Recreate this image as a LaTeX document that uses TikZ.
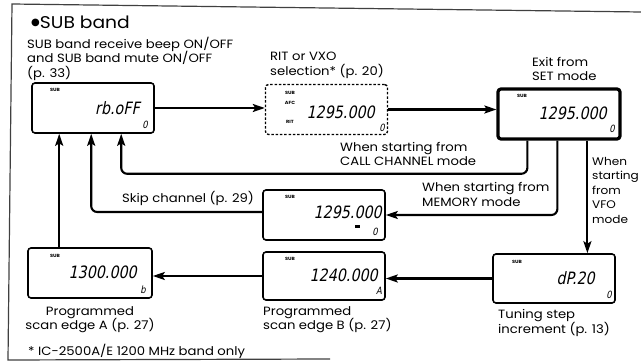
\documentclass[tikz,border=0pt]{standalone}
\usepackage{fontspec}
\setmainfont{Poppins}[FakeStretch=1.1]
\newfontfamily\lcd{DejaVu Sans}[FakeSlant=0.2,FakeStretch=0.84]
\newfontfamily\sym{DejaVu Sans}
\usetikzlibrary{arrows.meta,calc}
\begin{document}
\begin{tikzpicture}[x=1pt,y=-1pt,
  lbl/.style={font=\fontsize{12}{14.5}\selectfont,align=left,inner sep=0pt},
  lcdbox/.style={draw,line width=1.6pt,rounded corners=3pt,minimum width=122pt,minimum height=50pt,inner sep=0pt},
  tinylab/.style={font=\fontsize{4.5}{5}\selectfont\bfseries,inner sep=0pt},
  bigdig/.style={font=\lcd\fontsize{17}{17}\selectfont,inner sep=0pt,anchor=east},
  smalldig/.style={font=\lcd\fontsize{10}{10}\selectfont,inner sep=0pt},
  conn/.style={line width=2.1pt,rounded corners=6pt},
  arr/.style={conn,-{Stealth[length=12pt,width=8pt,inset=2.5pt]}}]
\useasboundingbox (0,0) rectangle (641,363);
% frame
\draw[line width=1.2pt,black!75] (641,12) -- (12,4) -- (8,360) -- (330,359);

% title
\node[anchor=west,inner sep=0pt,font=\fontsize{17}{17}\selectfont] (title) at (31,22) {\raisebox{2.5pt}{\sym\fontsize{10}{10}\selectfont ●}SUB band};
\node[lbl,anchor=north west] (t1) at (27,37) {SUB band receive beep ON/OFF\\and SUB band mute ON/OFF\\(p. 33)};

% boxes
\node[lcdbox] (b1) at (93,108) {};
\node[lcdbox,dash pattern=on 2.5pt off 1.8pt,line width=1.4pt] (b2) at (326.5,109.5) {};
\node[lcdbox,line width=3.2pt] (b3) at (559,114) {};
\node[lcdbox] (b4) at (324,215) {};
\node[lcdbox,minimum height=48pt] (b5) at (324,276) {};
\node[lcdbox,minimum width=124pt] (b6) at (90,273) {};
\node[lcdbox,minimum height=49pt] (b7) at (554,278.5) {};

% box contents
\node[tinylab] (s1) at (55,90) {SUB};
\node[bigdig] (d1) at (140,108) {rb.oFF};
\node[smalldig] (z1) at (145,125) {0};

\node[tinylab] (s2) at (290,93) {SUB};
\node[tinylab] (a2) at (290,103) {AFC};
\node[tinylab] (r2) at (290,122) {RIT};
\node[bigdig] (d2) at (375,112) {1295.000};
\node[smalldig] (z2) at (382,128) {0};

\node[tinylab] (s3) at (522,96) {SUB};
\node[bigdig] (d3) at (607,113) {1295.000};
\node[smalldig] (z3) at (612,129) {0};

\node[tinylab] (s4) at (290,197) {SUB};
\node[bigdig] (d4) at (382,212) {1295.000};
\node[fill=black,minimum width=5pt,minimum height=3pt,inner sep=0pt] (m4) at (357,227) {};
\node[smalldig] (z4) at (375,232) {0};

\node[tinylab] (s5) at (290,259) {SUB};
\node[bigdig] (d5) at (378,275) {1240.000};
\node[smalldig] (z5) at (379,291) {A};

\node[tinylab] (s6) at (55,256) {SUB};
\node[bigdig] (d6) at (137,272) {1300.000};
\node[smalldig] (z6) at (143,290) {b};

\node[tinylab] (s7) at (517,262) {SUB};
\node[bigdig] (d7) at (595,278) {dP.20};
\node[smalldig] (z7) at (609,295) {0};

% labels
\node[lbl,anchor=north west] (t2) at (270,52) {RIT or VXO\\selection* (p. 20)};
\node[lbl,anchor=north west] (t3) at (532,57) {Exit from\\SET mode};
\node[lbl,anchor=north west] (t4) at (340,142) {When starting from\\CALL CHANNEL mode};
\node[lbl,anchor=north west,font=\fontsize{12}{15.5}\selectfont] (t5) at (422,182) {When starting from\\MEMORY mode};
\node[lbl,anchor=north west,font=\fontsize{11}{14.5}\selectfont] (t6) at (592,157) {When\\starting\\from\\VFO\\mode};
\node[lbl,anchor=west] (t7) at (122,198) {Skip channel (p. 29)};
\node[lbl,anchor=north,align=center] (t8) at (90,306) {Programmed\\scan edge A (p. 27)};
\node[lbl,anchor=north west] (t9) at (263,306) {Programmed\\scan edge B (p. 27)};
\node[lbl,anchor=north west,font=\fontsize{12}{13.5}\selectfont] (t10) at (498,309) {Tuning step\\increment (p. 13)};
\node[lbl,anchor=west] (t11) at (28,351) {* IC-2500A/E 1200 MHz band only};

% connectors
\coordinate (c1) at ($(b3.south west)+(31,0)$);
\coordinate (c2) at ($(b3.south west)+(61,0)$);
\coordinate (c3) at ($(b3.south west)+(91,0)$);
\coordinate (e1) at ($(b1.south west)+(90,0)$);
\coordinate (e2) at ($(b1.south west)+(60,0)$);
\coordinate (e3) at ($(b1.south west)+(28,0)$);
\draw[arr] (b1.east) -- (b1.east -| b2.west);
\draw[arr] (b2.east) -- (b2.east -| b3.west);
\draw[arr] (c1) |- ($(e1)+(0,40)$) -- (e1);
\draw[arr] (c2) |- (b4.east);
\draw[arr] (c3) -- (c3 |- b7.north);
\draw[arr] ($(b4.west)+(0,-3)$) -| (e2);
\draw[arr] (b6.north -| e3) -- (e3);
\draw[arr] (b7.west) -- (b7.west -| b5.east);
\draw[arr] (b5.west) -- (b5.west -| b6.east);
\end{tikzpicture}
\end{document}
